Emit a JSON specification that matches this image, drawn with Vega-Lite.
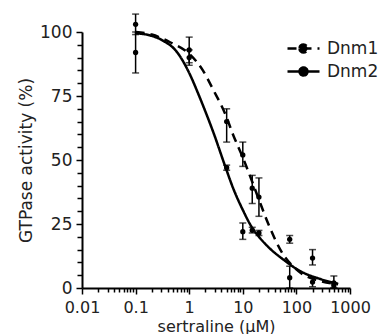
{
  "$schema": "https://vega.github.io/schema/vega-lite/v6.json",
  "width": 268,
  "height": 256,
  "autosize": {"type": "none"},
  "padding": {"left": 82, "top": 32, "right": 37, "bottom": 46},
  "background": "white",
  "config": {
    "view": {"stroke": null},
    "font": "DejaVu Sans",
    "axis": {"grid": false, "domainColor": "black", "tickColor": "black", "labelColor": "#222", "titleColor": "#222", "titleFontWeight": "normal"}
  },
  "datasets": {
    "curve": [
      {"series": "Dnm1", "conc": 0.1, "pct": 100},
      {"series": "Dnm1", "conc": 0.2, "pct": 99},
      {"series": "Dnm1", "conc": 0.44, "pct": 96},
      {"series": "Dnm1", "conc": 1, "pct": 91.5},
      {"series": "Dnm1", "conc": 1.8, "pct": 85},
      {"series": "Dnm1", "conc": 2.8, "pct": 77.5},
      {"series": "Dnm1", "conc": 4.7, "pct": 68},
      {"series": "Dnm1", "conc": 6.7, "pct": 59.5},
      {"series": "Dnm1", "conc": 10, "pct": 51},
      {"series": "Dnm1", "conc": 15, "pct": 41.5},
      {"series": "Dnm1", "conc": 20, "pct": 34.5},
      {"series": "Dnm1", "conc": 30, "pct": 25},
      {"series": "Dnm1", "conc": 50, "pct": 15},
      {"series": "Dnm1", "conc": 110, "pct": 6.5},
      {"series": "Dnm1", "conc": 250, "pct": 3},
      {"series": "Dnm1", "conc": 600, "pct": 1.5},
      {"series": "Dnm2", "conc": 0.1, "pct": 99.5},
      {"series": "Dnm2", "conc": 0.2, "pct": 98.5},
      {"series": "Dnm2", "conc": 0.3, "pct": 97},
      {"series": "Dnm2", "conc": 0.6, "pct": 92},
      {"series": "Dnm2", "conc": 1, "pct": 84},
      {"series": "Dnm2", "conc": 1.5, "pct": 75.5},
      {"series": "Dnm2", "conc": 2, "pct": 69},
      {"series": "Dnm2", "conc": 2.8, "pct": 61},
      {"series": "Dnm2", "conc": 4.7, "pct": 47.5},
      {"series": "Dnm2", "conc": 6.6, "pct": 39},
      {"series": "Dnm2", "conc": 10, "pct": 30.5},
      {"series": "Dnm2", "conc": 15, "pct": 23.5},
      {"series": "Dnm2", "conc": 20, "pct": 20},
      {"series": "Dnm2", "conc": 30, "pct": 16},
      {"series": "Dnm2", "conc": 58, "pct": 11},
      {"series": "Dnm2", "conc": 120, "pct": 6.5},
      {"series": "Dnm2", "conc": 280, "pct": 3.5},
      {"series": "Dnm2", "conc": 600, "pct": 1.6}
    ],
    "pts": [
      {"series": "Dnm1", "conc": 0.1, "mean": 103, "lo": 99, "hi": 107},
      {"series": "Dnm1", "conc": 1, "mean": 93, "lo": 88, "hi": 98},
      {"series": "Dnm1", "conc": 5, "mean": 65, "lo": 57, "hi": 70},
      {"series": "Dnm1", "conc": 10, "mean": 52, "lo": 47.5, "hi": 57},
      {"series": "Dnm1", "conc": 15, "mean": 39, "lo": 33, "hi": 44},
      {"series": "Dnm1", "conc": 20, "mean": 35.5, "lo": 28, "hi": 43},
      {"series": "Dnm1", "conc": 75, "mean": 19, "lo": 17.5, "hi": 20.5},
      {"series": "Dnm1", "conc": 200, "mean": 11.7, "lo": 9, "hi": 15},
      {"series": "Dnm1", "conc": 500, "mean": 2, "lo": 0, "hi": 4.7},
      {"series": "Dnm2", "conc": 0.1, "mean": 92, "lo": 84, "hi": 100},
      {"series": "Dnm2", "conc": 1, "mean": 90, "lo": 87, "hi": 93},
      {"series": "Dnm2", "conc": 5, "mean": 47, "lo": 46, "hi": 48},
      {"series": "Dnm2", "conc": 10, "mean": 22, "lo": 19, "hi": 25.4},
      {"series": "Dnm2", "conc": 15, "mean": 22.6, "lo": 21.5, "hi": 23.7},
      {"series": "Dnm2", "conc": 20, "mean": 21.5, "lo": 20.5, "hi": 22.5},
      {"series": "Dnm2", "conc": 75, "mean": 4, "lo": 0, "hi": 8.5},
      {"series": "Dnm2", "conc": 200, "mean": 2.3, "lo": 0.5, "hi": 4.3},
      {"series": "Dnm2", "conc": 500, "mean": 1, "lo": 0, "hi": 2}
    ]
  },
  "resolve": {"axis": {"x": "independent", "y": "independent"}},
  "layer": [
    {
      "data": {"name": "pts"},
      "mark": {"type": "errorbar", "ticks": {"size": 7, "thickness": 1.5, "color": "black"}, "rule": {"strokeWidth": 1.5, "color": "black"}},
      "encoding": {
        "x": {"field": "conc", "type": "quantitative", "scale": {"type": "log", "domain": [0.01, 1000], "nice": false},
          "axis": {"orient": "bottom", "values": [0.02,0.03,0.04,0.05,0.06,0.07,0.08,0.09,0.2,0.3,0.4,0.5,0.6,0.7,0.8,0.9,2,3,4,5,6,7,8,9,20,30,40,50,60,70,80,90,200,300,400,500,600,700,800,900], "labels": false, "domain": false, "tickSize": 4, "tickWidth": 1.5, "title": null}},
        "y": {"field": "lo", "type": "quantitative", "scale": {"domain": [0, 100], "nice": false},
          "axis": {"orient": "left", "values": [5,10,15,20,30,35,40,45,55,60,65,70,80,85,90,95], "labels": false, "domain": false, "tickSize": 5, "tickWidth": 1.5, "title": null}},
        "y2": {"field": "hi"}
      }
    },
    {
      "data": {"name": "pts"},
      "mark": {"type": "point", "filled": true, "shape": "circle", "size": 28, "color": "black", "opacity": 1},
      "encoding": {
        "x": {"field": "conc", "type": "quantitative", "scale": {"type": "log", "domain": [0.01, 1000], "nice": false}, "axis": null},
        "y": {"field": "mean", "type": "quantitative", "scale": {"domain": [0, 100], "nice": false}, "axis": null}
      }
    },
    {
      "data": {"name": "curve"},
      "mark": {"type": "line", "color": "black", "strokeWidth": 2.5, "interpolate": "monotone"},
      "encoding": {
        "x": {"field": "conc", "type": "quantitative", "scale": {"type": "log", "domain": [0.01, 1000], "nice": false},
          "axis": {"orient": "bottom", "values": [0.01, 0.1, 1, 10, 100, 1000], "format": "~g", "title": "sertraline (µM)", "tickSize": 6, "tickWidth": 1.5, "domainWidth": 2, "labelFontSize": 16, "labelPadding": 5, "labelFlush": false, "titleFontSize": 16, "titlePadding": 3}},
        "y": {"field": "pct", "type": "quantitative", "scale": {"domain": [0, 100], "nice": false},
          "axis": {"orient": "left", "values": [0, 25, 50, 75, 100], "title": "GTPase activity (%)", "tickSize": 6, "tickWidth": 1.5, "domainWidth": 2, "labelFontSize": 17, "labelPadding": 4, "titleFontSize": 17, "titlePadding": 4}},
        "strokeDash": {"field": "series", "type": "nominal",
          "scale": {"domain": ["Dnm1", "Dnm2"], "range": [[9, 6], [1, 0]]},
          "legend": {"orient": "none", "legendX": 210, "legendY": 5, "title": null,
            "symbolType": "M-1.6,0H1.6M-0.4,0A0.4,0.4,0,1,0,0.4,0A0.4,0.4,0,1,0,-0.4,0",
            "symbolSize": 400, "symbolStrokeWidth": 2.5, "symbolFillColor": "black", "symbolStrokeColor": "black",
            "labelFontSize": 17, "labelOffset": 12, "rowPadding": 2, "labelColor": "#222",
            "encode": {"symbols": {"update": {"strokeDash": {"signal": "datum.value === 'Dnm1' ? [3,3] : [1,0]"}, "fill": {"value": "black"}, "stroke": {"value": "black"}}}}}
        }
      }
    }
  ]
}
